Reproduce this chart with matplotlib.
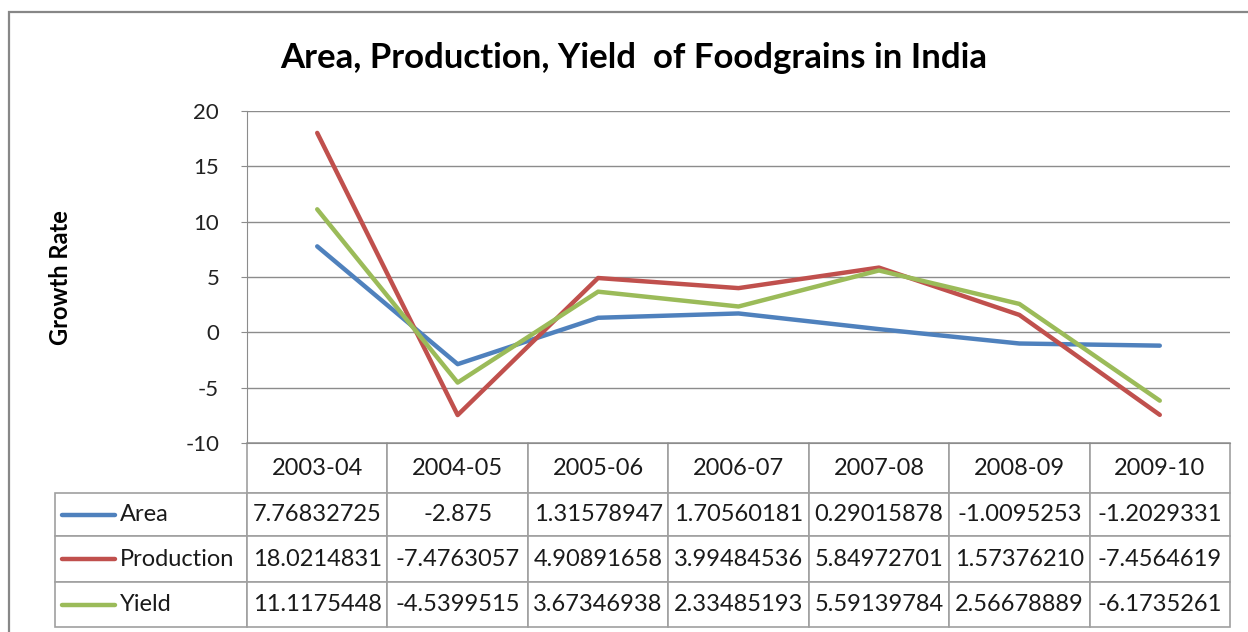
import numpy as np
import matplotlib
matplotlib.use('Agg')
from matplotlib import pyplot as plt
from matplotlib.lines import Line2D
import matplotlib.patches as mpatches

plt.rcParams['font.family'] = ['Lato', 'DejaVu Sans']
plt.rcParams['axes.unicode_minus'] = False

years = ['2003-04', '2004-05', '2005-06', '2006-07', '2007-08', '2008-09', '2009-10']
series_names = ['Area', 'Production', 'Yield']
area = [7.76832725, -2.875, 1.31578947, 1.70560181, 0.29015878, -1.0095253, -1.2029331]
production = [18.0214831, -7.4763057, 4.90891658, 3.99484536, 5.84972701, 1.57376210, -7.4564619]
yield_ = [11.1175448, -4.5399515, 3.67346938, 2.33485193, 5.59139784, 2.56678889, -6.1735261]
# the table shows the numbers as text, exactly as in the sheet
area_txt = ['7.76832725', '-2.875', '1.31578947', '1.70560181', '0.29015878', '-1.0095253', '-1.2029331']
production_txt = ['18.0214831', '-7.4763057', '4.90891658', '3.99484536', '5.84972701', '1.57376210', '-7.4564619']
yield_txt = ['11.1175448', '-4.5399515', '3.67346938', '2.33485193', '5.59139784', '2.56678889', '-6.1735261']
colors = ['#4F81BD', '#C0504D', '#9BBB59']

W, H = 1248, 632
fig = plt.figure(figsize=(W / 100, H / 100), dpi=100)

# plot area in pixels: x 247..1230, y 111..443
ax = fig.add_axes([247 / W, 1 - 443 / H, 983 / W, 332 / H])

x = np.arange(len(years))
for vals, c in zip([area, production, yield_], colors):
    ax.plot(x, vals, color=c, lw=3.2, solid_capstyle='round', zorder=3)

ax.set_xlim(-0.5, len(years) - 0.5)
ax.set_ylim(-10, 20)
ax.set_yticks(np.arange(-10, 21, 5))
ax.set_xticks([])
ax.yaxis.grid(True, color='#8C8C8C', lw=1.0)
ax.set_axisbelow(True)
for s in ['top', 'right']:
    ax.spines[s].set_visible(False)
ax.spines['left'].set_color('#8C8C8C')
ax.spines['bottom'].set_color('#8C8C8C')
ax.tick_params(axis='y', length=4, color='#8C8C8C', pad=16, labelsize=16, labelcolor='#222222')

fig.text(61 / W, 1 - 278 / H, 'Growth Rate', rotation=90, ha='center', va='center',
         fontsize=17, fontweight='bold')
fig.text(634 / W, 1 - 58 / H, 'Area, Production, Yield  of Foodgrains in India',
         ha='center', va='center', fontsize=25, fontweight='bold')

# data table under the plot
cell_text = [[''] + years,
             [series_names[0]] + area_txt,
             [series_names[1]] + production_txt,
             [series_names[2]] + yield_txt]
first_w = 192
col_w = [first_w] + [983 / 7] * 7
tbl = ax.table(cellText=cell_text, colWidths=[w / 1175 for w in col_w],
               bbox=[(55 - 247) / 983, (443 - 627) / 332, 1175 / 983, 184 / 332],
               cellLoc='center')
tbl.auto_set_font_size(False)
tbl.set_fontsize(17)
row_h = [50, 43, 46, 45]
for (r, c), cell in tbl.get_celld().items():
    cell.set_height(row_h[r] / 184)
    cell.set_edgecolor('#A0A0A0')
    cell.set_linewidth(1.2)
    cell.get_text().set_color('#1A1A1A')
    if r == 0 and c == 0:
        cell.visible_edges = ''
    if c == 0 and r > 0:
        cell.get_text().set_ha('left')
        cell.PAD = 65 / first_w

# legend keys inside the first table column
row_mid = [493 + 43 / 2, 536 + 46 / 2, 582 + 45 / 2]
for ym, c in zip(row_mid, colors):
    fig.add_artist(Line2D([62 / W, 115 / W], [1 - ym / H, 1 - ym / H], color=c, lw=3.2,
                          solid_capstyle='round'))

# chart frame
fig.add_artist(mpatches.Rectangle((9 / W, -0.05), 1.1, 1 - 12 / H + 0.05, fill=False,
                                  edgecolor='#878787', lw=1.6))

plt.savefig('out.png', dpi=100)
